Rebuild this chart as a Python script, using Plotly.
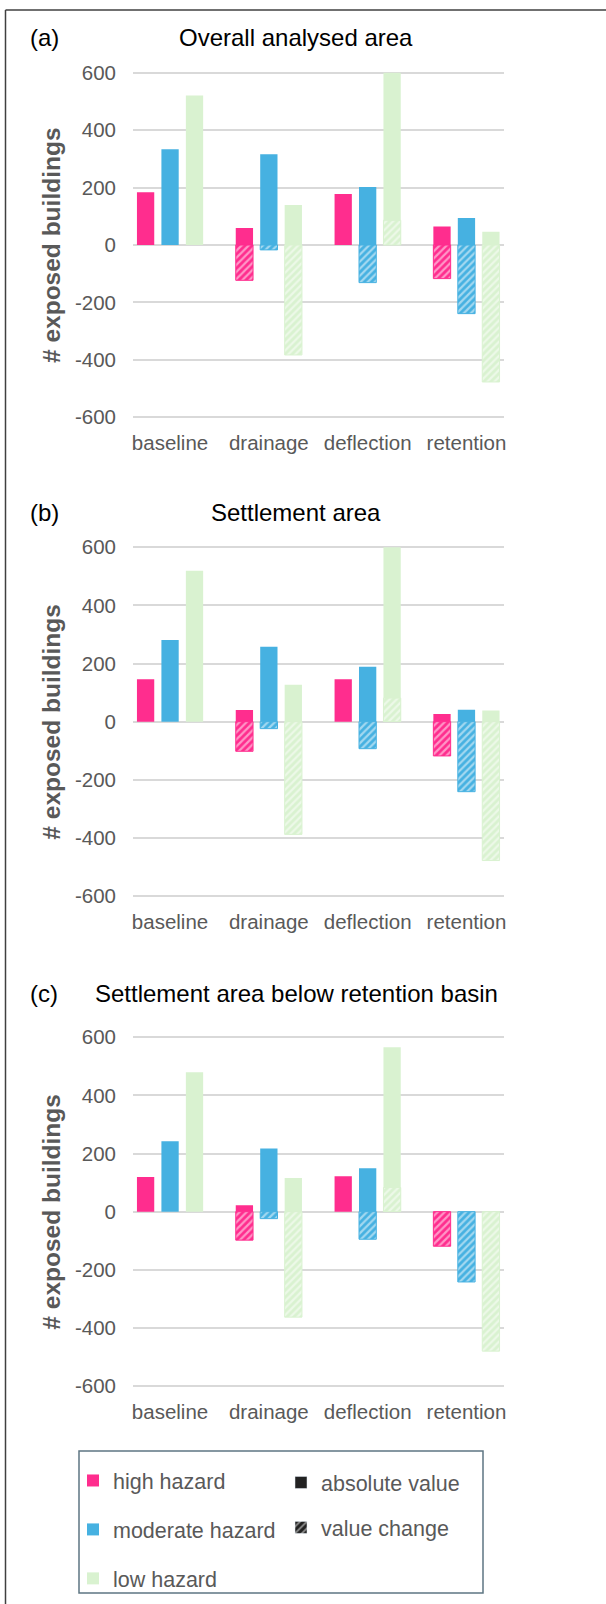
import plotly.graph_objects as go

# categories and read-off values (# exposed buildings)
scenarios = ["baseline", "drainage", "deflection", "retention"]
hazards = ["high hazard", "moderate hazard", "low hazard"]

# (a) overall analysed area
a_high = [184, 59, 178, 64]
a_mod = [333, 316, 202, 94]
a_low = [521, 139, 600, 46]
a_high_chg = [None, -123, None, -117]
a_mod_chg = [None, -17, -131, -239]
a_low_chg = [None, -383, 86, -477]

# (b) settlement area
b_high = [146, 40, 146, 26]
b_mod = [281, 258, 189, 41]
b_low = [519, 127, 600, 38]
b_high_chg = [None, -102, None, -118]
b_mod_chg = [None, -24, -93, -241]
b_low_chg = [None, -388, 81, -478]

# (c) settlement area below retention basin
c_high = [119, 22, 122, None]
c_mod = [242, 217, 149, None]
c_low = [480, 116, 566, None]
c_high_chg = [None, -98, None, -119]
c_mod_chg = [None, -24, -95, -242]
c_low_chg = [None, -363, 83, -480]

y_ticks = [-600, -400, -200, 0, 200, 400, 600]
y_ticktext = ["-600", "-400", "-200", "0", "200", "400", "600"]

# styling
W, H = 606, 1604
colors = ["#FF2D8E", "#46B1E1", "#D9F2D0"]
offsets = [-0.335, -0.0875, 0.16]
bar_w = 0.175
grey = "#595959"
font = "Liberation Sans, Arial, sans-serif"

panels = [
    dict(label="(a)", title="Overall analysed area", top=72.7, bot=417.3, ty=37,
         absv=[a_high, a_mod, a_low], chg=[a_high_chg, a_mod_chg, a_low_chg]),
    dict(label="(b)", title="Settlement area", top=547.3, bot=896, ty=512,
         absv=[b_high, b_mod, b_low], chg=[b_high_chg, b_mod_chg, b_low_chg]),
    dict(label="(c)", title="Settlement area below retention basin", top=1037.3, bot=1386, ty=993,
         absv=[c_high, c_mod, c_low], chg=[c_high_chg, c_mod_chg, c_low_chg]),
]


def py(px):
    return 1 - px / H


fig = go.Figure()
annotations = []
layout = {}

for i, p in enumerate(panels):
    n = "" if i == 0 else str(i + 1)
    xa, ya = "x" + n, "y" + n
    # solid bars = absolute values
    for h, vals in enumerate(p["absv"]):
        fig.add_trace(go.Bar(
            x=scenarios, y=vals, xaxis=xa, yaxis=ya, name=hazards[h],
            width=bar_w, offset=offsets[h],
            marker=dict(color=colors[h], line=dict(width=0)),
            showlegend=(i == 0), legend="legend", legendgroup=hazards[h],
        ))
    # hatched bars = value change
    for h, vals in enumerate(p["chg"]):
        fig.add_trace(go.Bar(
            x=scenarios, y=vals, xaxis=xa, yaxis=ya, name=hazards[h] + " change",
            width=bar_w, offset=offsets[h],
            marker=dict(color=colors[h], line=dict(color=colors[h], width=1),
                        pattern=dict(shape="/", fgcolor="white", size=5, solidity=0.45)),
            showlegend=False,
        ))

    k = (p["bot"] - p["top"]) / 1200
    layout["xaxis" + n] = dict(
        domain=[133 / W, 504 / W], anchor=ya, type="category",
        categoryorder="array", categoryarray=scenarios,
        range=[-0.375, 3.38], showgrid=False, zeroline=False, showline=False,
        ticks="", tickfont=dict(size=20.5, color=grey, family=font),
        ticklabelstandoff=10, automargin=False,
    )
    layout["yaxis" + n] = dict(
        domain=[py(p["bot"] + 5 * k), py(p["top"] - 5 * k)], anchor=xa,
        range=[-605, 605], tickvals=y_ticks, ticktext=y_ticktext, showgrid=True,
        gridcolor="#D9D9D9", gridwidth=1.5, zeroline=False, showline=False,
        ticks="", tickfont=dict(size=20.5, color=grey, family=font),
        ticklabelstandoff=16, automargin=False,
    )
    annotations.append(dict(
        text=p["label"], x=28 / W, y=py(p["ty"]), xref="paper", yref="paper",
        xanchor="left", yanchor="middle", showarrow=False,
        font=dict(size=24, color="black", family=font)))
    annotations.append(dict(
        text=p["title"], x=296 / W, y=py(p["ty"]), xref="paper", yref="paper",
        xanchor="center", yanchor="middle", showarrow=False,
        font=dict(size=24, color="black", family=font)))
    annotations.append(dict(
        text="<b># exposed buildings</b>", x=52 / W, y=py((p["top"] + p["bot"]) / 2),
        xref="paper", yref="paper", xanchor="center", yanchor="middle",
        textangle=-90, showarrow=False,
        font=dict(size=24.5, color=grey, family=font)))

# legend keys for absolute value / value change
fig.add_trace(go.Bar(x=[None], y=[None], name="absolute value",
                     marker=dict(color="#222222"), legend="legend2",
                     legendgroup="abs"))
fig.add_trace(go.Bar(x=[None], y=[None], name="value change",
                     marker=dict(color="#222222",
                                 pattern=dict(shape="/", fgcolor="white", size=6, solidity=0.35)),
                     legend="legend2", legendgroup="chg"))

shapes = [
    # outer frame (left/top edges)
    dict(type="line", xref="paper", yref="paper", x0=5.5 / W, x1=1.0, y0=py(10), y1=py(10),
         line=dict(color="#404040", width=1.5)),
    dict(type="line", xref="paper", yref="paper", x0=5.5 / W, x1=5.5 / W, y0=py(10), y1=0,
         line=dict(color="#404040", width=1.5)),
    # legend box
    dict(type="rect", xref="paper", yref="paper", x0=79 / W, x1=483 / W, y0=py(1593), y1=py(1451),
         line=dict(color="#5E7682", width=1.5)),
]

fig.update_layout(
    width=W, height=H,
    margin=dict(l=0, r=0, t=0, b=0),
    paper_bgcolor="white", plot_bgcolor="white",
    barmode="overlay",
    font=dict(family=font, color=grey),
    annotations=annotations,
    shapes=shapes,
    legend=dict(x=73 / W, y=py(1460), xanchor="left", yanchor="top",
                bgcolor="rgba(0,0,0,0)", borderwidth=0, tracegroupgap=18,
                font=dict(size=21.5, color=grey, family=font)),
    legend2=dict(x=281 / W, y=py(1462), xanchor="left", yanchor="top",
                 bgcolor="rgba(0,0,0,0)", borderwidth=0, tracegroupgap=14,
                 font=dict(size=21.5, color=grey, family=font)),
    **layout,
)

# drop the default 8px page margin so the figure sits at the window origin
fig.write_html("out.html", config={"displayModeBar": False},
               post_script="document.body.style.margin='0px';")
